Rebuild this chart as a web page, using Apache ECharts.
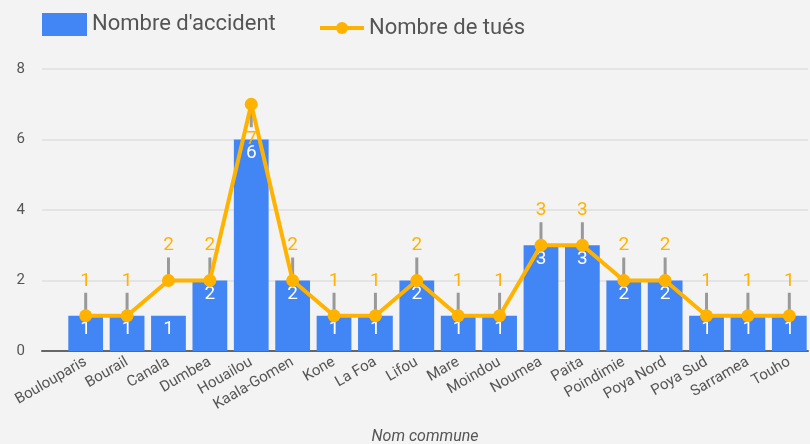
<!DOCTYPE html>
<html><head><meta charset="utf-8">
<script src="https://cdn.jsdelivr.net/npm/echarts@6/dist/echarts.min.js"></script>
<style>html,body{margin:0;padding:0;background:#f3f3f3}#c{width:810px;height:444px}</style>
</head><body><div id="c"></div>
<script>
const categories = ['Boulouparis','Bourail','Canala','Dumbea','Houailou','Kaala-Gomen','Kone','La Foa','Lifou','Mare','Moindou','Noumea','Paita','Poindimie','Poya Nord','Poya Sud','Sarramea','Touho'];
const accidents = [1,1,1,2,6,2,1,1,2,1,1,3,3,2,2,1,1,1];
const tues = [1,1,2,2,7,2,1,1,2,1,1,3,3,2,2,1,1,1];
const yTicks = [0,2,4,6,8];

const FONT = 'Roboto';
const BLUE = '#4285F4', ORANGE = '#FFB300';
const chart = echarts.init(document.getElementById('c'));
chart.setOption({
  backgroundColor: '#f3f3f3',
  textStyle: {fontFamily: FONT},
  animation: false,
  legend: [
    {left: 42, top: 13, padding: 0, itemWidth: 45, itemHeight: 23, itemGap: 8,
     textStyle: {fontSize: 22, color: '#555', fontFamily: FONT},
     data: [{name: "Nombre d'accident", icon: 'rect'}]},
    {left: 318, top: 17, padding: 0, itemWidth: 44, itemHeight: 15, itemGap: 8,
     textStyle: {fontSize: 22, color: '#555', fontFamily: FONT},
     data: [{name: 'Nombre de tués', lineStyle: {width: 4}}]}
  ],
  grid: [
    {left: 42, right: 2, top: 69, bottom: 93, outerBoundsMode: 'none', containLabel: false},
    {left: 65, right: 0, top: 69, bottom: 93, outerBoundsMode: 'none', containLabel: false}
  ],
  xAxis: [
    {type: 'value', gridIndex: 0, min: 0, max: 1, axisLabel: {show: false}, axisTick: {show: false}, splitLine: {show: false},
     axisLine: {show: true, lineStyle: {color: '#666', width: 2}},
     name: 'Nom commune', nameLocation: 'middle', nameGap: 78,
     nameTextStyle: {fontStyle: 'italic', fontSize: 16, color: '#555', fontFamily: FONT}},
    {type: 'category', gridIndex: 1, data: categories, axisLine: {show: false}, axisTick: {show: false},
     axisLabel: {rotate: 30, margin: 10, fontSize: 15, color: '#555', interval: 0, fontFamily: FONT}}
  ],
  yAxis: [
    {type: 'value', gridIndex: 0, min: yTicks[0], max: yTicks[yTicks.length-1], interval: 2,
     axisLine: {show: false}, axisTick: {show: false},
     axisLabel: {fontSize: 15, color: '#555', margin: 17, fontFamily: FONT},
     splitLine: {lineStyle: {color: '#e4e4e4', width: 2}}},
    {type: 'value', gridIndex: 1, min: yTicks[0], max: yTicks[yTicks.length-1], interval: 2, show: false}
  ],
  series: [
    {name: "Nombre d'accident", type: 'bar', xAxisIndex: 1, yAxisIndex: 1, data: accidents,
     barCategoryGap: '16%', itemStyle: {color: BLUE},
     label: {show: true, position: 'insideTop', distance: 4, color: '#fff', fontSize: 19, fontFamily: FONT}, z: 2},
    {name: 'tuesGuides', type: 'custom', xAxisIndex: 1, yAxisIndex: 1, z: 3,
     data: tues.map((v, i) => [i, v]),
     renderItem: function (params, api) {
       const v = api.value(1);
       const p = api.coord([api.value(0), v]);
       const below = p[1] - 45 < params.coordSys.y;
       return {type: 'group', children: [
         {type: 'line', shape: {x1: p[0], y1: below ? p[1] + 6 : p[1], x2: p[0], y2: below ? p[1] + 23 : p[1] - 23},
          style: {stroke: '#999', lineWidth: 3}},
         {type: 'text', style: {text: String(v), x: p[0], y: below ? p[1] + 35 : p[1] - 35, align: 'center', verticalAlign: 'middle',
          fill: ORANGE, font: '19px ' + FONT}}
       ]};
     }},
    {name: 'Nombre de tués', type: 'line', xAxisIndex: 1, yAxisIndex: 1, data: tues,
     symbol: 'circle', symbolSize: 13, lineStyle: {color: ORANGE, width: 4}, itemStyle: {color: ORANGE}, z: 4}
  ]
});
</script></body></html>
